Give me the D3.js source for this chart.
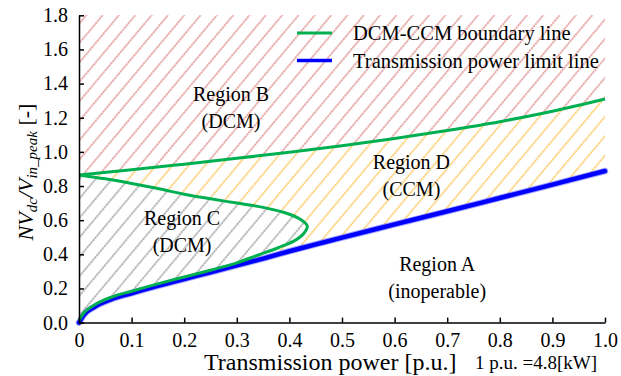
<!DOCTYPE html>
<html>
<head>
<meta charset="utf-8">
<script src="https://cdn.jsdelivr.net/npm/d3@7"></script>
<style>
  body { margin: 0; background: #fff; }
  svg { display: block; font-family: "Liberation Serif", serif; }
</style>
</head>
<body>
<div id="chart"></div>
<script>
// tick values
const xTicks = [0, 0.1, 0.2, 0.3, 0.4, 0.5, 0.6, 0.7, 0.8, 0.9, 1.0];
const yTicks = [0, 0.2, 0.4, 0.6, 0.8, 1.0, 1.2, 1.4, 1.6, 1.8];

// transmission power limit line
const limitP = [0, 0.01, 0.03, 0.06, 0.1, 0.15, 0.2, 0.25, 0.3, 0.35, 0.4, 0.45, 0.5, 0.6, 0.7, 0.8, 0.9, 1.0];
const limitV = [0, 0.048, 0.093, 0.135, 0.172, 0.215, 0.255, 0.295, 0.335, 0.375, 0.418, 0.458, 0.498, 0.575, 0.652, 0.73, 0.808, 0.888];

// DCM-CCM boundary, upper branch
const upperP = [0, 0.1, 0.2, 0.3, 0.4, 0.5, 0.6, 0.7, 0.8, 0.9, 1.0];
const upperV = [0.865, 0.895, 0.928, 0.962, 0.998, 1.036, 1.078, 1.125, 1.177, 1.238, 1.31];

// DCM-CCM boundary, lower branch (loop from the axis to the nose and back to 0)
const lowerP = [0, 0.05, 0.1, 0.15, 0.2, 0.25, 0.3, 0.35, 0.39, 0.42, 0.434, 0.428, 0.41, 0.38, 0.34, 0.3, 0.25, 0.2, 0.15, 0.1, 0.06, 0.03, 0.01, 0];
const lowerV = [0.865, 0.842, 0.815, 0.785, 0.752, 0.725, 0.7, 0.675, 0.645, 0.607, 0.566, 0.525, 0.48, 0.44, 0.395, 0.35, 0.307, 0.267, 0.227, 0.184, 0.147, 0.105, 0.06, 0.01];

const regionLabels = [
  { x: 0.289, y: 1.30, lines: ["Region B", "(DCM)"] },
  { x: 0.632, y: 0.90, lines: ["Region D", "(CCM)"] },
  { x: 0.196, y: 0.57, lines: ["Region C", "(DCM)"] },
  { x: 0.681, y: 0.30, lines: ["Region A", "(inoperable)"] }
];

const FONT = "'Liberation Serif', serif";
const W = 621, H = 376;
const margin = { top: 15.3, right: 16, bottom: 53.4, left: 79 };

const svg = d3.select("#chart").append("svg")
  .attr("width", W)
  .attr("height", H)
  .attr("font-family", FONT);

const x = d3.scaleLinear().domain([0, 1]).range([margin.left, W - margin.right]);
const y = d3.scaleLinear().domain([0, 1.8]).range([H - margin.bottom, margin.top]);

// hatch patterns
const defs = svg.append("defs");
function hatch(id, dark, light) {
  const p = defs.append("pattern")
    .attr("id", id)
    .attr("patternUnits", "userSpaceOnUse")
    .attr("width", 12.5)
    .attr("height", 3)
    .attr("patternTransform", "rotate(40)");
  p.append("rect").attr("width", 12.5).attr("height", 3).attr("fill", "#fff");
  p.append("rect").attr("x", 0).attr("y", 0).attr("width", 1.8).attr("height", 3).attr("fill", light);
  p.append("rect").attr("x", 0).attr("y", 0).attr("width", 1.8).attr("height", 1.8).attr("fill", dark);
}
hatch("hRed", "#e6a6a6", "#f3d3d3");
hatch("hYel", "#fdd27c", "#fee6b8");
hatch("hGray", "#b3b3b3", "#d8d8d8");

const pts = (px, pv) => px.map((d, i) => [d, pv[i]]);
const limitPts = pts(limitP, limitV);
const upperPts = pts(upperP, upperV);
const lowerPts = pts(lowerP, lowerV);

// region D (whole plot) then B above, A below, C loop
svg.append("rect")
  .attr("x", x(0)).attr("y", y(1.8))
  .attr("width", x(1) - x(0)).attr("height", y(0) - y(1.8))
  .attr("fill", "url(#hYel)");

svg.append("path")
  .datum(upperPts)
  .attr("d", d3.area().x(d => x(d[0])).y0(y(1.8)).y1(d => y(d[1])).curve(d3.curveMonotoneX))
  .attr("fill", "url(#hRed)");

svg.append("path")
  .datum(limitPts)
  .attr("d", d3.area().x(d => x(d[0])).y0(y(0)).y1(d => y(d[1])).curve(d3.curveMonotoneX))
  .attr("fill", "#fff");

const loopLine = d3.line().x(d => x(d[0])).y(d => y(d[1])).curve(d3.curveCatmullRom.alpha(0.5));
svg.append("path")
  .attr("d", loopLine(lowerPts) + "Z")
  .attr("fill", "url(#hGray)");

// lines
const monoLine = d3.line().x(d => x(d[0])).y(d => y(d[1])).curve(d3.curveMonotoneX);
svg.append("path")
  .attr("d", monoLine(limitPts))
  .attr("fill", "none")
  .attr("stroke", "#6b6bff")
  .attr("stroke-opacity", 0.6)
  .attr("stroke-width", 6.5)
  .attr("stroke-linecap", "round");
svg.append("path")
  .attr("d", monoLine(limitPts))
  .attr("fill", "none")
  .attr("stroke", "#0000ff")
  .attr("stroke-width", 4.5)
  .attr("stroke-linecap", "round");

svg.append("path")
  .attr("d", monoLine(upperPts))
  .attr("fill", "none")
  .attr("stroke", "#00b050")
  .attr("stroke-width", 3);
svg.append("path")
  .attr("d", loopLine(lowerPts))
  .attr("fill", "none")
  .attr("stroke", "#00b050")
  .attr("stroke-width", 3);

// region labels
regionLabels.forEach(r => {
  const t = svg.append("text")
    .attr("text-anchor", "middle")
    .attr("font-size", "20px")
    .attr("fill", "#000");
  r.lines.forEach((s, i) => {
    t.append("tspan")
      .attr("x", x(r.x))
      .attr("y", y(r.y) + i * 27)
      .text(s);
  });
});

// axes
const xAxis = svg.append("g")
  .attr("transform", `translate(0, ${y(0)})`)
  .call(d3.axisBottom(x).tickValues(xTicks).tickSizeInner(-5).tickSizeOuter(0).tickPadding(10)
    .tickFormat(d => d === 0 ? "0" : d.toFixed(1)));
const yAxis = svg.append("g")
  .attr("transform", `translate(${x(0)}, 0)`)
  .call(d3.axisLeft(y).tickValues(yTicks).tickSizeInner(-5).tickSizeOuter(0).tickPadding(11)
    .tickFormat(d => d.toFixed(1)));
[xAxis, yAxis].forEach(g => {
  g.attr("font-family", FONT).attr("font-size", 20);
  g.selectAll("path, line").attr("stroke", "#000").attr("stroke-width", 1.5);
  g.selectAll("text").attr("fill", "#000");
});

// axis titles
svg.append("text")
  .attr("x", 204)
  .attr("y", 370)
  .attr("font-size", "24px")
  .text("Transmission power [p.u.]");
svg.append("text")
  .attr("x", 597)
  .attr("y", 369)
  .attr("text-anchor", "end")
  .attr("font-size", "19px")
  .text("1 p.u. =4.8[kW]");

const yt = svg.append("text")
  .attr("transform", "translate(33, 172) rotate(-90)")
  .attr("text-anchor", "middle")
  .attr("font-size", "22px");
yt.append("tspan").attr("font-style", "italic").text("NV");
yt.append("tspan").attr("font-style", "italic").attr("font-size", "15px").attr("dy", 4).text("dc");
yt.append("tspan").attr("font-style", "italic").attr("dy", -4).text("/V");
yt.append("tspan").attr("font-style", "italic").attr("font-size", "15px").attr("dy", 4).text("in_peak");
yt.append("tspan").attr("dy", -4).text(" [-]");

// legend
const legendNames = ["DCM-CCM boundary line", "Transmission power limit line"];
const legendColors = ["#00b050", "#0000ff"];
const legend = svg.append("g").attr("transform", "translate(297, 33)");
legendNames.forEach((name, i) => {
  const row = legend.append("g").attr("transform", `translate(0, ${i * 27.5})`);
  row.append("line")
    .attr("x1", 0).attr("x2", 35)
    .attr("stroke", legendColors[i])
    .attr("stroke-width", i === 0 ? 3 : 3.5);
  row.append("text")
    .attr("x", 56)
    .attr("y", 7)
    .attr("font-size", "20.5px")
    .text(name);
});
</script>
</body>
</html>
